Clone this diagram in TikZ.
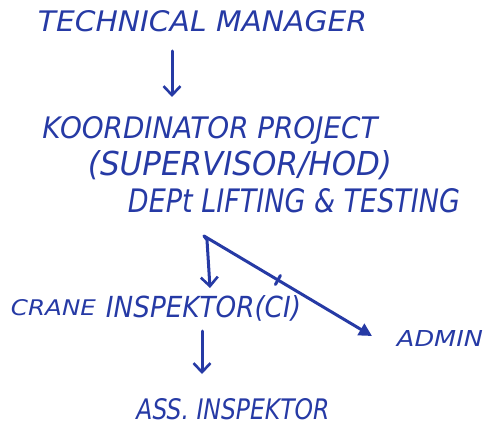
\documentclass[tikz,border=0pt]{standalone}
\usepackage{fontspec}
\setmainfont{DejaVu Sans}
\usepackage{graphicx}
\usetikzlibrary{arrows.meta,calc}
\definecolor{ink}{RGB}{38,58,165}
\newcommand{\hw}[3]{\resizebox{#1}{#2}{\itshape #3}}
\begin{document}
\begin{tikzpicture}[x=1pt,y=-1pt,
  lbl/.style={inner sep=0pt,text=ink,anchor=center},
  pen/.style={draw=ink,line width=3pt,line cap=round,line join=round},
  barb/.style={pen,-{Straight Barb[length=9pt,width=17pt,line width=2.6pt]}},
  tri/.style={pen,-{Triangle[length=13pt,width=13pt]}}]
\useasboundingbox (0,0) rectangle (493,428);
\node[lbl] (tm) at (202.5,21) {\hw{329pt}{21pt}{TECHNICAL MANAGER}};
\node[lbl] (kp) at (210,130) {\hw{335pt}{22pt}{KOORDINATOR PROJECT}};
\node[lbl] (sv) at (240,165) {\hw{304pt}{25pt}{(SUPERVISOR/HOD)}};
\node[lbl] (dp) at (294,201) {\hw{332pt}{24pt}{DEPt LIFTING \& TESTING}};
\node[lbl] (ci) at (156,308) {\raisebox{2pt}{\hw{85pt}{16pt}{CRANE}}\hspace{10pt}\hw{195pt}{22pt}{INSPEKTOR(CI)}};
\node[lbl] (ad) at (440,338) {\hw{86pt}{16pt}{ADMIN}};
\node[lbl] (as) at (233,409) {\hw{193pt}{21pt}{ASS. INSPEKTOR}};
% connectors
\coordinate (a1s) at (172,51);
\coordinate (a1e) at (172,97);
\draw[barb] (a1s) -- (a1e);
\coordinate (j) at (204,236);
\coordinate (cie) at (210,288);
\coordinate (ade) at (372,336);
\draw[barb] (j) -- (207,240) -- (cie);
\draw[tri] (j) -- (ade);
\draw[pen] ($(j)!0.44!(ade)+(-2.5,4.5)$) -- ($(j)!0.44!(ade)+(2.5,-4.5)$);
\coordinate (a3s) at (202,331);
\coordinate (a3e) at (202,374);
\draw[barb] (a3s) -- (a3e);
\end{tikzpicture}
\end{document}
